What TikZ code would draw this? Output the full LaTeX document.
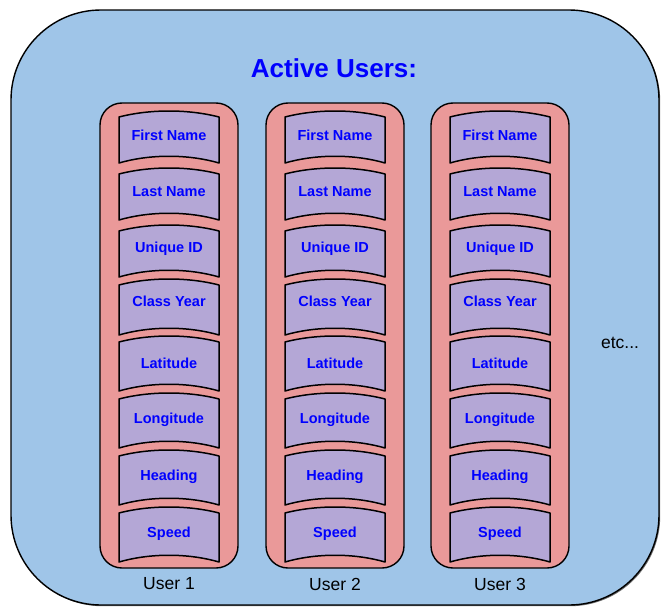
\documentclass[tikz,border=0pt]{standalone}
\usepackage{fontspec}
\setmainfont{Liberation Sans}
\usetikzlibrary{shadows}
\definecolor{panelblue}{HTML}{9FC5E8}
\definecolor{userpink}{HTML}{EA9999}
\definecolor{fieldpurple}{HTML}{B4A7D6}

\begin{document}
\begin{tikzpicture}[
        x=1pt, y=-1pt,
        panel/.style={
            draw,
            line width=1.4pt,
            fill=panelblue,
            rounded corners=90pt,
            drop shadow={shadow xshift=1.2pt, shadow yshift=-1.2pt, fill=black!70, opacity=0.8}
        },
        column/.style={
            draw,
            line width=1.4pt,
            fill=userpink,
            rounded corners=22pt
        },
        field/.style={
            draw,
            line width=1.5pt,
            line join=round,
            fill=fieldpurple
        },
        fieldtext/.style={font=\bfseries\fontsize{14.5}{16}\selectfont, text=blue},
        userlabel/.style={font=\fontsize{17.5}{20}\selectfont},
        heading/.style={font=\bfseries\fontsize{26}{30}\selectfont, text=blue}
    ]

        \useasboundingbox (0,0) rectangle (672,613);

        \draw[panel] (11,10) rectangle (659,605);
        \node[heading] (title) at (334,68) {Active Users:};

        % one column per user, one band per field
        \foreach \col/\x in {1/100, 2/266, 3/431} {
            \draw[column] (\x,103) rectangle (\x+138,568);
            \foreach \t/\b/\ty/\lbl [count=\i] in {117/163/135/First Name, 174/220/192/Last Name,
                    231/277/249/Unique ID, 285/335/301/Class Year, 342/391/363/Latitude,
                    399/448/420/Longitude, 456/505/477/Heading, 513/562/534/Speed} {
                \draw[field] (\x+19,\t) .. controls (\x+50,\t-8) and (\x+88,\t-8) .. (\x+119,\t)
                    -- (\x+119,\b) .. controls (\x+88,\b-9) and (\x+50,\b-9) .. (\x+19,\b) -- cycle;
                \node[fieldtext] (u\col f\i) at (\x+69,\ty) {\lbl};
            }
            \node[userlabel] (user\col) at (\x+69,584) {User \col};
        }

        \node[userlabel] (etc) at (620,343) {etc...};

    \end{tikzpicture}
\end{document}
